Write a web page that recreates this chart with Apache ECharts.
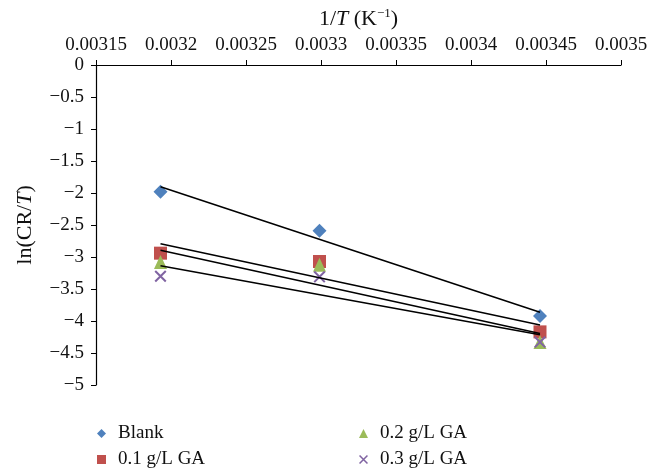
<!DOCTYPE html>
<html>
<head>
<meta charset="utf-8">
<script src="https://cdn.jsdelivr.net/npm/echarts@6/dist/echarts.min.js"></script>
<style>
  html, body { margin: 0; padding: 0; background: #fff; }
  #chart { width: 660px; height: 473px; }
</style>
</head>
<body>
<div id="chart"></div>
<script>
// Inverse temperature (1/T, K^-1) for the three test temperatures
const invT = [0.003193, 0.003299, 0.003446];

// ln(CR/T) for each inhibitor concentration
const blank = [-1.98, -2.59, -3.92];
const ga01 = [-2.94, -3.07, -4.17];
const ga02 = [-3.08, -3.12, -4.33];
const ga03 = [-3.30, -3.31, -4.33];

const seriesNames = ['Blank', '0.1 g/L GA', '0.2 g/L GA', '0.3 g/L GA'];
const seriesColors = ['#4f81bd', '#c0504d', '#9bbb59', '#8064a2'];

const xTicks = { min: 0.00315, max: 0.0035, step: 0.00005 };
const yTicks = { min: -5, max: 0, step: 0.5 };

const SERIF = '"Liberation Serif", "DejaVu Serif", serif';
const INK = '#111';
const CROSS = 'path://M0,1.2L1.2,0L10,8.8L8.8,10Z M8.8,0L10,1.2L1.2,10L0,8.8Z';
const symbols = ['diamond', 'rect', 'triangle', CROSS];
const symbolSizes = [14, 13, [13, 14], 12];

// Least-squares fit, returned as the two end points over the x range
function trend(xs, ys) {
  const n = xs.length;
  const mx = xs.reduce((a, b) => a + b, 0) / n;
  const my = ys.reduce((a, b) => a + b, 0) / n;
  let sxy = 0, sxx = 0;
  for (let i = 0; i < n; i++) {
    sxy += (xs[i] - mx) * (ys[i] - my);
    sxx += (xs[i] - mx) * (xs[i] - mx);
  }
  const k = sxy / sxx;
  const b = my - k * mx;
  const x0 = Math.min(...xs), x1 = Math.max(...xs);
  return [[x0, k * x0 + b], [x1, k * x1 + b]];
}

const allY = [blank, ga01, ga02, ga03];

const scatterSeries = allY.map((ys, i) => ({
  name: seriesNames[i],
  type: 'scatter',
  symbol: symbols[i],
  symbolSize: symbolSizes[i],
  itemStyle: { color: seriesColors[i], opacity: 1 },
  z: 2 + i,
  data: invT.map((x, j) => [x, ys[j]])
}));

const trendSeries = allY.map((ys, i) => ({
  name: 'fit-' + i,
  type: 'line',
  showSymbol: false,
  symbol: 'none',
  silent: true,
  lineStyle: { color: '#000', width: 1.5 },
  z: 10,
  data: trend(invT, ys)
}));

// One legend block per entry, laid out as a 2 x 2 key under the plot
const legendSlots = [[92, 419], [92, 445], [354, 419], [354, 445]];
const legends = seriesNames.map((name, i) => ({
  left: legendSlots[i][0],
  top: legendSlots[i][1],
  itemWidth: 9,
  itemHeight: 9,
  itemGap: 0,
  textStyle: { fontFamily: SERIF, fontSize: 19, color: INK, padding: [0, 0, 0, 7] },
  data: [{ name: name, icon: symbols[i], itemStyle: { color: seriesColors[i] } }]
}));

const chart = echarts.init(document.getElementById('chart'), null, { renderer: 'canvas' });

chart.setOption({
  animation: false,
  backgroundColor: '#fff',
  grid: { left: 96, right: 39, top: 65, bottom: 88 },
  legend: legends,
  xAxis: {
    type: 'value',
    position: 'top',
    min: xTicks.min,
    max: xTicks.max,
    interval: xTicks.step,
    name: '1/{i|T} (K{sup|−1})',
    nameLocation: 'middle',
    nameGap: 34,
    nameTextStyle: {
      fontFamily: SERIF, fontSize: 22, color: INK,
      rich: {
        i: { fontFamily: SERIF, fontSize: 22, fontStyle: 'italic', color: INK },
        sup: { fontFamily: SERIF, fontSize: 13, color: INK, verticalAlign: 'top', padding: [0, 0, 11, 0] }
      }
    },
    axisLine: { onZero: false, lineStyle: { color: '#000', width: 1.2 } },
    axisTick: { show: true, inside: false, length: 5, lineStyle: { color: '#000' } },
    axisLabel: {
      margin: 10,
      fontFamily: SERIF, fontSize: 19, color: INK,
      formatter: v => String(+v.toFixed(5))
    },
    splitLine: { show: false }
  },
  yAxis: {
    type: 'value',
    min: yTicks.min,
    max: yTicks.max,
    interval: yTicks.step,
    name: 'ln(CR/{i|T})',
    nameLocation: 'middle',
    nameGap: 60,
    nameRotate: 90,
    nameTextStyle: {
      fontFamily: SERIF, fontSize: 22, color: INK,
      rich: { i: { fontFamily: SERIF, fontSize: 22, fontStyle: 'italic', color: INK } }
    },
    axisLine: { show: true, onZero: false, lineStyle: { color: '#000', width: 1.2 } },
    axisTick: { show: true, inside: false, length: 5, lineStyle: { color: '#000' } },
    axisLabel: {
      margin: 12,
      fontFamily: SERIF, fontSize: 19, color: INK,
      formatter: v => (v < 0 ? '−' : '') + String(Math.abs(+v.toFixed(1)))
    },
    splitLine: { show: false }
  },
  series: [...scatterSeries, ...trendSeries]
});
</script>
</body>
</html>
